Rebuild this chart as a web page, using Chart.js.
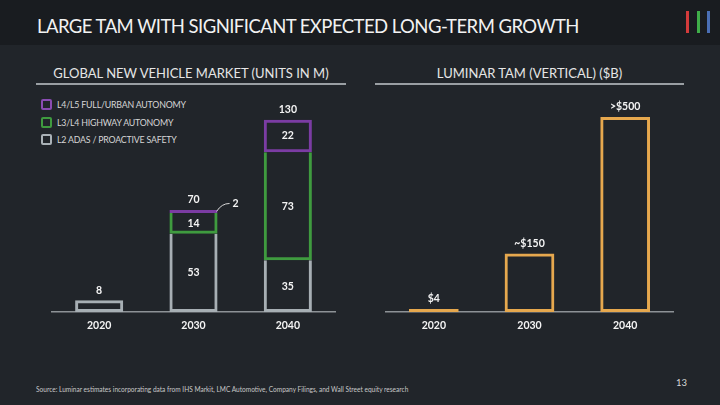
<!DOCTYPE html>
<html>
<head>
<meta charset="utf-8">
<script src="https://cdn.jsdelivr.net/npm/chart.js@4.4.1/dist/chart.umd.min.js"></script>
<style>
  html, body { margin: 0; padding: 0; }
  body { width: 720px; height: 405px; background: #21252a; position: relative; overflow: hidden; font-family: Lato, "DejaVu Sans", sans-serif; color: #e8e8e8; }
  .topbar { position: absolute; left: 0; top: 0; width: 720px; height: 45px; background: #191c20; }
  .title { position: absolute; left: 37px; top: 14px; font-size: 18.5px; letter-spacing: -0.55px; line-height: 24px; color: #f2f2f2; white-space: nowrap; }
  .logo { position: absolute; top: 11px; width: 3px; height: 22px; }
  .head { position: absolute; top: 65px; font-size: 13px; line-height: 16px; color: #e6e6e6; white-space: nowrap; text-align: center; }
  .rule { position: absolute; top: 83px; height: 2px; background: #9a9fa3; }
  .legend { position: absolute; left: 41px; top: 96px; font-size: 8.8px; letter-spacing: -0.2px; color: #d6d6d6; }
  .legend div { height: 17.5px; display: flex; align-items: center; white-space: nowrap; }
  .legend span { display: inline-block; width: 7px; height: 7px; border: 2px solid; border-radius: 2px; margin-right: 5px; }
  .foot { position: absolute; left: 36px; top: 386px; font-size: 6.55px; color: #c8c8c8; white-space: nowrap; }
  .page { position: absolute; left: 676px; top: 377px; font-size: 9.5px; color: #d8d8d8; }
  canvas { position: absolute; }
</style>
</head>
<body>
<div class="topbar"></div>
<div class="title">LARGE TAM WITH SIGNIFICANT EXPECTED LONG-TERM GROWTH</div>
<div class="logo" style="left:686px;background:#d33b3b"></div>
<div class="logo" style="left:697px;background:#3fae49"></div>
<div class="logo" style="left:707px;background:#4a6fb5"></div>

<div class="head" style="left:36px;width:310px">GLOBAL NEW VEHICLE MARKET (UNITS IN M)</div>
<div class="rule" style="left:36px;width:310px"></div>
<div class="head" style="left:375px;width:309px">LUMINAR TAM (VERTICAL) ($B)</div>
<div class="rule" style="left:375px;width:309px"></div>

<div class="legend">
  <div><span style="border-color:#8a4cb3"></span>L4/L5 FULL/URBAN AUTONOMY</div>
  <div><span style="border-color:#3f9b3f"></span>L3/L4 HIGHWAY AUTONOMY</div>
  <div><span style="border-color:#aab2b7"></span>L2 ADAS / PROACTIVE SAFETY</div>
</div>

<canvas id="leftChart" style="left:0;top:90px" width="360" height="250"></canvas>
<canvas id="rightChart" style="left:360px;top:90px" width="360" height="250"></canvas>

<div class="foot">Source: Luminar estimates incorporating data from IHS Markit, LMC Automotive, Company Filings, and Wall Street equity research</div>
<div class="page">13</div>

<script>
// data
var years = ['2020', '2030', '2040'];
var l2Adas = [8, 53, 35];
var l3Highway = [null, 14, 73];
var l4Urban = [null, 2, 22];
var marketTotals = ['8', '70', '130'];

var tamValues = [4, 150, 500];
var tamLabels = ['$4', '~$150', '>$500'];

var GRAY = '#a7afb4', GREEN = '#3f9b3f', PURPLE = '#7b3ca3', ORANGE = '#e6a84e';
var labelFont = 'bold 10.5px Lato, "DejaVu Sans", sans-serif';

// draws totals above bars, values inside segments, and the little "2" callout
var valueLabels = {
    id: 'valueLabels',
    afterDatasetsDraw: function (chart, args, opts) {
        var ctx = chart.ctx;
        ctx.save();
        ctx.font = labelFont;
        ctx.fillStyle = '#f4f4f4';
        ctx.textAlign = 'center';
        ctx.textBaseline = 'middle';
        var n = chart.data.labels.length;
        for (var j = 0; j < n; j++) {
            var top = null, x = 0;
            chart.data.datasets.forEach(function (ds, i) {
                var el = chart.getDatasetMeta(i).data[j];
                if (!el || ds.data[j] == null) return;
                x = el.x;
                if (top === null || el.y < top) top = el.y;
                if (opts.inner && Math.abs(el.base - el.y) > 20) {
                    ctx.fillText(String(ds.data[j]), el.x, (el.y + el.base) / 2);
                }
            });
            ctx.fillText(opts.totals[j], x, top - 10);
        }
        if (opts.callout) {
            var el2 = chart.getDatasetMeta(2).data[1];
            var rx = el2.x + el2.width / 2 - 1;
            var ry = (el2.y + el2.base) / 2;
            ctx.strokeStyle = '#d8d8d8';
            ctx.lineWidth = 1;
            ctx.beginPath();
            ctx.moveTo(rx, ry);
            ctx.quadraticCurveTo(rx + 5, ry - 8, rx + 13, ry - 8);
            ctx.stroke();
            ctx.fillText(String(l4Urban[1]), rx + 19, ry - 8);
        }
        ctx.restore();
    }
};

function xAxis() {
    return {
        grid: { display: false, drawTicks: false },
        border: { display: true, color: '#8d9296', width: 1.5 },
        ticks: { color: '#f4f4f4', font: { family: 'Lato', size: 10.5, weight: 'bold' }, padding: 7 },
        afterFit: function (s) { s.height = 28; },
        stacked: true
    };
}

new Chart(document.getElementById('leftChart'), {
    type: 'bar',
    data: {
        labels: years,
        datasets: [
            { label: 'L2 ADAS / PROACTIVE SAFETY', data: l2Adas, borderColor: GRAY, backgroundColor: 'transparent',
              borderWidth: function (c) { return { top: c.dataIndex > 0 ? 0 : 3, bottom: 3, left: 3, right: 3 }; } },
            { label: 'L3/L4 HIGHWAY AUTONOMY', data: l3Highway, borderColor: GREEN, backgroundColor: 'transparent',
              borderWidth: { top: 0, bottom: 3, left: 3, right: 3 } },
            { label: 'L4/L5 FULL/URBAN AUTONOMY', data: l4Urban, borderColor: PURPLE, backgroundColor: 'transparent',
              borderWidth: 3 }
        ]
    },
    options: {
        responsive: false,
        animation: false,
        datasets: { bar: { borderSkipped: false, categoryPercentage: 1, barPercentage: 0.51 } },
        layout: { padding: { left: 52, right: 25, top: 15, bottom: 0 } },
        plugins: { legend: { display: false }, tooltip: { enabled: false },
                   valueLabels: { totals: marketTotals, inner: true, callout: true } },
        scales: {
            x: xAxis(),
            y: { display: false, stacked: true, min: 0, max: 140 }
        }
    },
    plugins: [valueLabels]
});

new Chart(document.getElementById('rightChart'), {
    type: 'bar',
    data: {
        labels: years,
        datasets: [
            { label: 'Luminar TAM ($B)', data: tamValues, borderColor: ORANGE, backgroundColor: 'transparent',
              borderWidth: 3, minBarLength: 3 }
        ]
    },
    options: {
        responsive: false,
        animation: false,
        datasets: { bar: { borderSkipped: false, categoryPercentage: 1, barPercentage: 0.52 } },
        layout: { padding: { left: 26, right: 47, top: 15, bottom: 0 } },
        plugins: { legend: { display: false }, tooltip: { enabled: false },
                   valueLabels: { totals: tamLabels, inner: false } },
        scales: {
            x: xAxis(),
            y: { display: false, min: 0, max: 531 }
        }
    },
    plugins: [valueLabels]
});
</script>
</body>
</html>
